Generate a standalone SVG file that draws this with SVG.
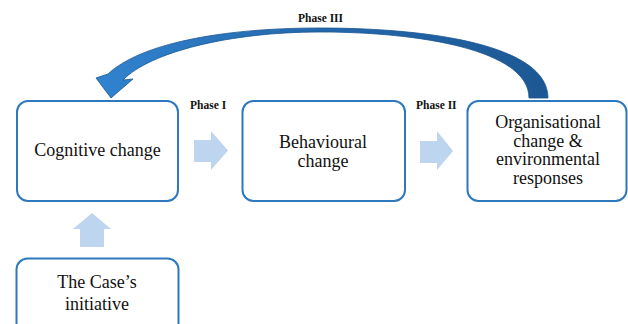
<svg xmlns="http://www.w3.org/2000/svg" width="628" height="324" viewBox="0 0 628 324">
  <defs>
    <linearGradient id="curveGrad" gradientUnits="userSpaceOnUse" x1="95" y1="0" x2="550" y2="0">
      <stop offset="0" stop-color="#3183D0"/>
      <stop offset="0.5" stop-color="#2468AC"/>
      <stop offset="1" stop-color="#1C5893"/>
    </linearGradient>
  </defs>
  <style>
    .box { fill: #ffffff; stroke: #2E78BE; stroke-width: 2; }
    .lbl { font-family: 'Liberation Serif', 'DejaVu Serif', serif; font-size: 18px; fill: #111111; text-anchor: middle; }
    .phase { font-family: 'Liberation Serif', 'DejaVu Serif', serif; font-size: 11.5px; font-weight: bold; fill: #111111; }
    .flow { fill: #BDD5EF; }
  </style>
  <rect width="628" height="324" fill="#ffffff"/>

  <g id="connectors">
    <path id="phase3-arrow" d="M548,98 C548,45 430,28 320,28 C220,28 140,44 108,74 L96,78 L111,98 L133,79 L123,80 C150,52 230,32 320,32 C420,32 529,50 529,98 Z" fill="url(#curveGrad)" stroke="#1B5590" stroke-width="0.8"/>
    <path id="phase1-arrow" class="flow" d="M194,140 L211,140 L211,131 L228,150.5 L211,170 L211,162 L194,162 Z"/>
    <path id="phase2-arrow" class="flow" d="M420,141 L437,141 L437,131 L453,151 L437,170 L437,163 L420,163 Z"/>
    <path id="initiative-arrow" class="flow" d="M80,247 L80,229 L73,229 L92,213 L111,229 L104,229 L104,247 Z"/>
    <text class="phase" x="298" y="22">Phase III</text>
    <text class="phase" x="190" y="109">Phase I</text>
    <text class="phase" x="416" y="109">Phase II</text>
  </g>

  <g id="cognitive">
    <rect class="box" x="17" y="101" width="161" height="100" rx="11"/>
    <text class="lbl" x="97.5" y="156">Cognitive change</text>
  </g>

  <g id="behavioural">
    <rect class="box" x="242.5" y="101" width="162.5" height="100" rx="11"/>
    <text class="lbl" x="323" y="148">Behavioural</text>
    <text class="lbl" x="323" y="166.5">change</text>
  </g>

  <g id="organisational">
    <rect class="box" x="467.5" y="101" width="159" height="100" rx="11"/>
    <text class="lbl" x="548" y="128">Organisational</text>
    <text class="lbl" x="548" y="146.5">change &amp;</text>
    <text class="lbl" x="548" y="165">environmental</text>
    <text class="lbl" x="548" y="183.5">responses</text>
  </g>

  <g id="initiative">
    <rect class="box" x="16.5" y="258.5" width="162" height="90" rx="11"/>
    <text class="lbl" x="97" y="288">The Case’s</text>
    <text class="lbl" x="97" y="310">initiative</text>
  </g>
</svg>
